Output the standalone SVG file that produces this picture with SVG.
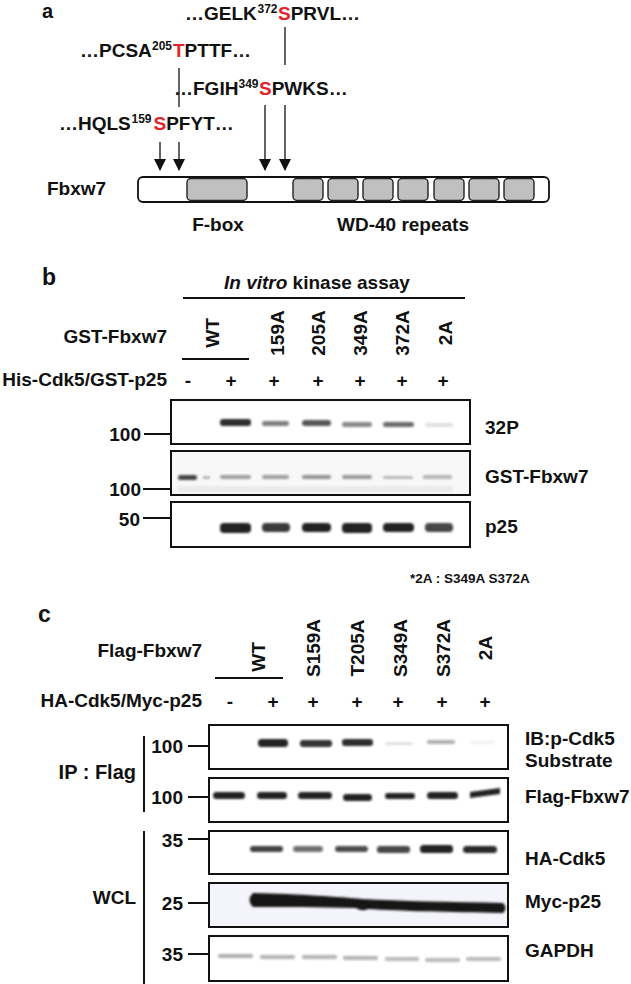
<svg xmlns="http://www.w3.org/2000/svg" width="631" height="984" viewBox="0 0 631 984">
<defs>
<style>
text{font-family:"Liberation Sans",Arial,Helvetica,sans-serif;font-weight:bold;fill:#111;font-size:19px}
.pl{font-size:23px}
.sup{font-size:12px}
.red{fill:#e3232b}
.ln{stroke:#111;stroke-width:2;fill:none}
.thin{stroke:#111;stroke-width:1.3;fill:none}
.blot{fill:#fff;stroke:#111;stroke-width:2}
.band{fill:#151515}
.gray{fill:#c0c0c0;stroke:#222;stroke-width:1.4}
.mid{text-anchor:middle}
.end{text-anchor:end}
.small{font-size:13.5px}
</style>
<marker id="ah" markerUnits="userSpaceOnUse" markerWidth="12" markerHeight="12" viewBox="0 0 12 12" refX="11" refY="6" orient="auto"><path d="M0,0 L12,6 L0,12 z" fill="#111"/></marker>
<filter id="bl" filterUnits="userSpaceOnUse" x="0" y="0" width="631" height="984"><feGaussianBlur stdDeviation="1.3"/></filter>
</defs>
<rect width="631" height="984" fill="#fff"/>

<!-- Panel a -->
<g id="panel-a">
<text class="pl" x="42" y="18" style="font-size:20px">a</text>
<g id="seq372"><text y="20"><tspan x="185">…GELK</tspan><tspan class="sup" x="257.5" dy="-7">372</tspan><tspan class="red" x="278" dy="7">S</tspan><tspan>PRVL…</tspan></text></g>
<g id="seq205"><text y="57"><tspan x="80">…PCSA</tspan><tspan class="sup" x="152" dy="-7">205</tspan><tspan class="red" x="173" dy="7">T</tspan><tspan>PTTF…</tspan></text></g>
<g id="seq349"><text y="95"><tspan x="174">…FGIH</tspan><tspan class="sup" x="238.5" dy="-7">349</tspan><tspan class="red" x="259" dy="7">S</tspan><tspan>PWKS…</tspan></text></g>
<g id="seq159"><text y="130"><tspan x="59">…HQLS</tspan><tspan class="sup" x="131.5" dy="-7">159</tspan><tspan class="red" x="153.5" dy="7">S</tspan><tspan>PFYT…</tspan></text></g>
<g id="fbxw7-bar">
<text x="47" y="195">Fbxw7</text>
<rect x="138" y="177" width="411" height="25" rx="5" fill="#fff" stroke="#111" stroke-width="1.8"/>
<rect class="gray" x="187" y="178.5" width="60" height="22" rx="4"/>
<rect class="gray" x="293" y="178.5" width="30" height="22" rx="4"/>
<rect class="gray" x="328" y="178.5" width="30" height="22" rx="4"/>
<rect class="gray" x="363" y="178.5" width="30" height="22" rx="4"/>
<rect class="gray" x="398" y="178.5" width="30" height="22" rx="4"/>
<rect class="gray" x="434" y="178.5" width="30" height="22" rx="4"/>
<rect class="gray" x="469" y="178.5" width="30" height="22" rx="4"/>
<rect class="gray" x="504" y="178.5" width="30" height="22" rx="4"/>
<text class="mid" x="218" y="231">F-box</text>
<text class="mid" x="403" y="231">WD-40 repeats</text>
</g>
</g>
<g id="connectors-a">
<line class="thin" x1="285" y1="27" x2="285" y2="65"/>
<line class="thin" x1="179" y1="68" x2="179" y2="107"/>
<line class="thin" x1="160" y1="142" x2="160" y2="170" marker-end="url(#ah)"/>
<line class="thin" x1="179" y1="142" x2="179" y2="170" marker-end="url(#ah)"/>
<line class="thin" x1="265" y1="105" x2="265" y2="170" marker-end="url(#ah)"/>
<line class="thin" x1="285" y1="105" x2="285" y2="170" marker-end="url(#ah)"/>
</g>

<!-- Panel b -->
<g id="panel-b">
<text class="pl" x="42" y="285">b</text>
<text x="224" y="289"><tspan font-style="italic">In vitro</tspan> kinase assay</text>
<line class="ln" x1="183" y1="298" x2="465" y2="298"/>
<text class="end" x="167" y="343">GST-Fbxw7</text>
<g id="b-lanes" class="mid">
<text transform="translate(219,333) rotate(-90)">WT</text>
<text transform="translate(284,333) rotate(-90)">159A</text>
<text transform="translate(325,333) rotate(-90)">205A</text>
<text transform="translate(367,333) rotate(-90)">349A</text>
<text transform="translate(409,333) rotate(-90)">372A</text>
<text transform="translate(452,333) rotate(-90)">2A</text>
</g>
<line class="ln" x1="182" y1="359" x2="249" y2="359"/>
<text class="end" x="167" y="386">His-Cdk5/GST-p25</text>
<g class="mid">
<text x="188" y="387">-</text><text x="231" y="387">+</text><text x="274" y="387">+</text><text x="318" y="387">+</text><text x="360" y="387">+</text><text x="402" y="387">+</text><text x="443" y="387">+</text>
</g>
<g id="b-blot-32P">
<rect class="blot" x="171" y="400" width="299" height="44"/>
<g filter="url(#bl)" class="band">
<rect x="220" y="419" width="31" height="7" rx="3" opacity=".9"/>
<rect x="262" y="421" width="27" height="5" rx="2.5" opacity=".55"/>
<rect x="302" y="420" width="29" height="6" rx="3" opacity=".7"/>
<rect x="342" y="422" width="30" height="5" rx="2.5" opacity=".5"/>
<rect x="383" y="422" width="31" height="5" rx="2.5" opacity=".62"/>
<rect x="425" y="423" width="28" height="4" rx="2" opacity=".12"/>
</g>
<text class="end" x="141" y="441">100</text>
<line class="ln" x1="144" y1="434" x2="171" y2="434"/>
<text x="485" y="434">32P</text>
</g>
<g id="b-blot-gst">
<rect class="blot" x="171" y="451" width="299" height="44" style="fill:#f8f8f8"/>
<g filter="url(#bl)" class="band">
<rect x="178" y="475" width="19" height="5" rx="2.5" opacity=".8"/>
<rect x="203" y="476" width="7" height="3" rx="1.5" opacity=".3"/>
<rect x="220" y="475" width="31" height="4" rx="2" opacity=".4"/>
<rect x="262" y="475" width="27" height="4" rx="2" opacity=".4"/>
<rect x="302" y="475" width="29" height="4" rx="2" opacity=".45"/>
<rect x="342" y="475" width="30" height="4" rx="2" opacity=".42"/>
<rect x="383" y="476" width="30" height="3" rx="1.5" opacity=".25"/>
<rect x="423" y="475" width="29" height="4" rx="2" opacity=".3"/>
<rect x="178" y="486" width="275" height="6" opacity=".05"/>
</g>
<text class="end" x="141" y="496">100</text>
<line class="ln" x1="143" y1="489" x2="171" y2="489"/>
<text x="485" y="483">GST-Fbxw7</text>
</g>
<g id="b-blot-p25">
<rect class="blot" x="171" y="502" width="299" height="45"/>
<g filter="url(#bl)" class="band">
<rect x="220" y="523" width="31" height="10" rx="4" opacity=".95"/>
<rect x="262" y="523" width="28" height="9" rx="4" opacity=".85"/>
<rect x="302" y="523" width="29" height="9" rx="4" opacity=".95"/>
<rect x="342" y="523" width="30" height="10" rx="4" opacity=".95"/>
<rect x="383" y="523" width="31" height="9" rx="4" opacity=".95"/>
<rect x="425" y="523" width="28" height="9" rx="4" opacity=".8"/>
</g>
<text class="end" x="140" y="526">50</text>
<line class="ln" x1="143" y1="518" x2="171" y2="518"/>
<text x="485" y="533">p25</text>
</g>
<text class="small" x="410" y="583">*2A : S349A S372A</text>
</g>

<!-- Panel c -->
<g id="panel-c">
<text class="pl" x="38" y="622">c</text>
<text class="end" x="202" y="657">Flag-Fbxw7</text>
<g id="c-lanes" class="mid">
<text transform="translate(265,657) rotate(-90)">WT</text>
<text transform="translate(320,648) rotate(-90)">S159A</text>
<text transform="translate(364,648) rotate(-90)">T205A</text>
<text transform="translate(407,648) rotate(-90)">S349A</text>
<text transform="translate(450,648) rotate(-90)">S372A</text>
<text transform="translate(492,648) rotate(-90)">2A</text>
</g>
<line class="ln" x1="215" y1="678" x2="283" y2="678"/>
<text class="end" x="202" y="707">HA-Cdk5/Myc-p25</text>
<g class="mid">
<text x="230" y="708">-</text><text x="273" y="708">+</text><text x="313" y="708">+</text><text x="357" y="708">+</text><text x="398" y="708">+</text><text x="442" y="708">+</text><text x="485" y="708">+</text>
</g>
<g id="c-brackets">
<line class="ln" x1="144" y1="736" x2="144" y2="812"/>
<text class="end" x="136" y="779" style="font-size:20px">IP : Flag</text>
<line class="ln" x1="144" y1="831" x2="144" y2="984"/>
<text class="end" x="136" y="904">WCL</text>
</g>
<g id="c-blot-substrate">
<rect class="blot" x="209" y="725" width="299" height="44"/>
<g filter="url(#bl)" class="band">
<rect x="258" y="739" width="30" height="8" rx="3.5" opacity=".95"/>
<rect x="300" y="740" width="32" height="7" rx="3" opacity=".88"/>
<rect x="342" y="739" width="31" height="7" rx="3" opacity=".9"/>
<rect x="385" y="742" width="28" height="3" rx="1.5" opacity=".12"/>
<rect x="427" y="740" width="28" height="4" rx="2" opacity=".35"/>
<rect x="470" y="741" width="25" height="3" rx="1.5" opacity=".05"/>
</g>
<text class="end" x="183" y="753">100</text>
<line class="ln" x1="188" y1="746" x2="209" y2="746"/>
<text x="525" y="745">IB:p-Cdk5</text>
<text x="525" y="767">Substrate</text>
</g>
<g id="c-blot-flag">
<rect class="blot" x="209" y="778" width="299" height="44"/>
<g filter="url(#bl)" class="band">
<rect x="213" y="792" width="32" height="7" rx="3.5" opacity=".95"/>
<rect x="257" y="792" width="30" height="7" rx="3.5" opacity=".95"/>
<rect x="298" y="792" width="34" height="7" rx="3.5" opacity=".95"/>
<rect x="343" y="794" width="29" height="7" rx="3.5" opacity=".95"/>
<rect x="385" y="793" width="30" height="6" rx="3" opacity=".95"/>
<rect x="427" y="792" width="31" height="7" rx="3.5" opacity=".95"/>
<path d="M470,792 L500,788 L500,794 L470,798 Z" opacity=".95"/>
</g>
<text class="end" x="183" y="804">100</text>
<line class="ln" x1="188" y1="797" x2="209" y2="797"/>
<text x="525" y="803">Flag-Fbxw7</text>
</g>
<g id="c-blot-ha">
<rect class="blot" x="209" y="831" width="299" height="43"/>
<g filter="url(#bl)" class="band">
<rect x="250" y="846" width="33" height="6" rx="3" opacity=".82"/>
<rect x="293" y="846" width="30" height="6" rx="3" opacity=".6"/>
<rect x="335" y="846" width="33" height="6" rx="3" opacity=".75"/>
<rect x="377" y="846" width="33" height="7" rx="3" opacity=".8"/>
<rect x="420" y="845" width="33" height="8" rx="3.5" opacity=".95"/>
<rect x="463" y="846" width="34" height="7" rx="3.5" opacity=".92"/>
</g>
<text class="end" x="183" y="847">35</text>
<line class="ln" x1="188" y1="839" x2="209" y2="839"/>
<text x="525" y="865">HA-Cdk5</text>
</g>
<g id="c-blot-myc">
<rect class="blot" x="209" y="883" width="299" height="44" style="fill:#f4f4fb"/>
<g filter="url(#bl)" class="band">
<path d="M253,893 C300,894 340,897 362,899 C400,901 450,902 503,903 Q508,908 503,913 C450,912 400,911 368,909 Q362,912 356,908 C320,907 280,907 253,907 Q246,900 253,893 Z"/>
</g>
<text class="end" x="183" y="910">25</text>
<line class="ln" x1="188" y1="903" x2="209" y2="903"/>
<text x="525" y="908">Myc-p25</text>
</g>
<g id="c-blot-gapdh">
<rect class="blot" x="209" y="936" width="299" height="45"/>
<g filter="url(#bl)" class="band">
<rect x="218" y="954" width="35" height="4" rx="2" opacity=".35"/>
<rect x="260" y="955" width="35" height="4" rx="2" opacity=".33"/>
<rect x="302" y="955" width="35" height="4" rx="2" opacity=".33"/>
<rect x="343" y="956" width="35" height="4" rx="2" opacity=".33"/>
<rect x="385" y="957" width="34" height="4" rx="2" opacity=".3"/>
<rect x="425" y="958" width="35" height="4" rx="2" opacity=".3"/>
<rect x="466" y="957" width="35" height="4" rx="2" opacity=".3"/>
</g>
<text class="end" x="183" y="961">35</text>
<line class="ln" x1="188" y1="954" x2="209" y2="954"/>
<text x="525" y="957">GAPDH</text>
</g>
</g>
</svg>
